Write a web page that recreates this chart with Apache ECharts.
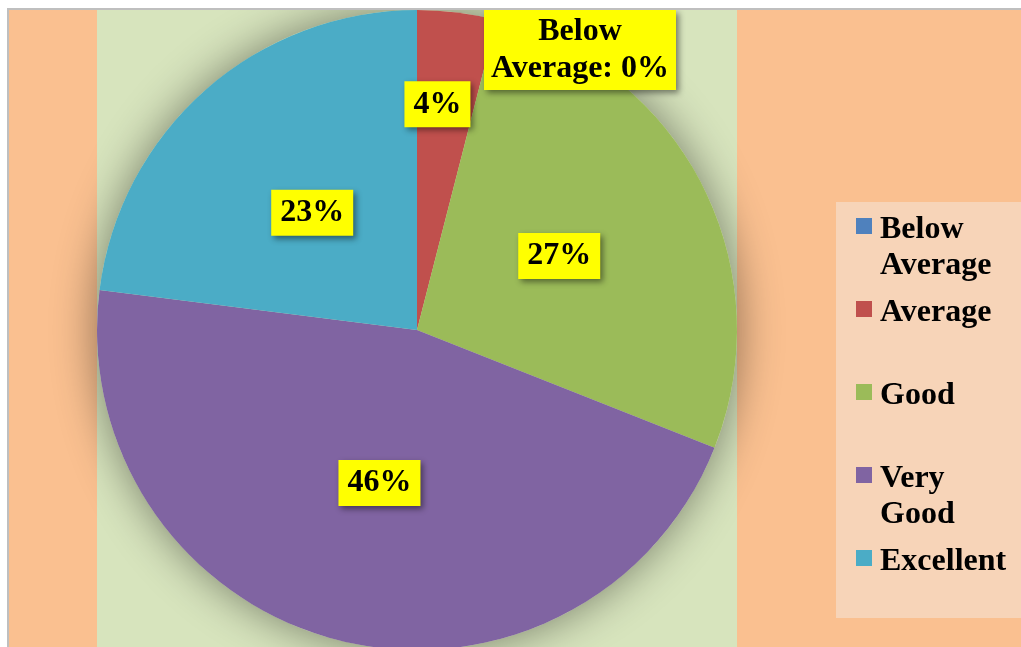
<!DOCTYPE html>
<html>
<head>
<meta charset="utf-8">
<script src="https://cdn.jsdelivr.net/npm/echarts@6/dist/echarts.min.js"></script>
<style>
  html, body { margin: 0; padding: 0; background: #fff; }
  #chart { width: 1021px; height: 647px; }
</style>
</head>
<body>
<div id="chart"></div>
<script>
// rating categories and their share of answers (%)
const categories = ['Below Average', 'Average', 'Good', 'Very Good', 'Excellent'];
const values = [0, 4, 27, 46, 23];
const colors = ['#4F81BD', '#C0504D', '#9BBB59', '#8064A2', '#4BACC6'];

const serif = "'Liberation Serif', 'Times New Roman', serif";

const chart = echarts.init(document.getElementById('chart'));

const pieData = categories.map((name, i) => {
    const item = { name: name, value: values[i], itemStyle: { color: colors[i] } };
    if (i === 0) {
        // zero slice gets an outside label with a leader line
        item.label = { position: 'outside', align: 'center', lineHeight: 37, padding: [3, 7] };
        item.labelLine = { show: true, length: 12, length2: 10, lineStyle: { color: '#8C8C8C', width: 1.5 } };
    }
    return item;
});

// small nudges so the labels sit where the original puts them
const labelShift = [null, { dy: -64 }, { dx: -3 }, { dx: 3, dy: -5 }, { dx: 3, dy: 5 }];

const option = {
    backgroundColor: '#ffffff',
    animation: false,
    graphic: [
        {
            type: 'rect', z: -10, silent: true,
            shape: { x: 8, y: 9, width: 1100, height: 700 },
            style: { fill: '#FAC090' }
        },
        {
            type: 'rect', z: -9, silent: true,
            shape: { x: 97, y: 10, width: 640, height: 700 },
            style: { fill: '#D7E4BD' }
        },
        {
            // white margin + border drawn over the pie shadow
            type: 'rect', z: 50, silent: true,
            shape: { x: 0, y: 0, width: 1021, height: 8 },
            style: { fill: '#ffffff' }
        },
        {
            type: 'polyline', z: 51, silent: true,
            shape: { points: [[8, 647], [8, 9], [1021, 9]] },
            style: { stroke: '#BFBFBF', lineWidth: 2, fill: null }
        }
    ],
    legend: {
        orient: 'vertical',
        left: 836,
        top: 202,
        padding: [10, 40, 2, 20],
        itemGap: 11,
        itemWidth: 16,
        itemHeight: 72,
        backgroundColor: '#F7D4B8',
        icon: 'path://M0,0M0,72M0,6L16,6L16,22L0,22Z',
        data: categories,
        formatter: name => name.indexOf(' ') > 0 ? name.replace(' ', '\n') : name + '\n\u00a0',
        textStyle: {
            fontFamily: serif,
            fontWeight: 'bold',
            fontSize: 32,
            lineHeight: 36,
            color: '#000',
            padding: [0, 0, 0, 3]
        }
    },
    series: [
        {
            // soft shadow behind the whole pie
            type: 'pie',
            silent: true,
            z: 1,
            center: [417, 330],
            radius: 320,
            label: { show: false },
            labelLine: { show: false },
            data: [{ value: 1, name: 'shadow' }],
            itemStyle: { color: '#D7E4BD', shadowBlur: 45, shadowColor: 'rgba(0,0,0,0.45)' }
        },
        {
            type: 'pie',
            z: 2,
            center: [417, 330],
            radius: 320,
            startAngle: 90,
            clockwise: true,
            data: pieData,
            label: {
                show: true,
                position: 'inside',
                fontFamily: serif,
                fontWeight: 'bold',
                fontSize: 32,
                lineHeight: 36,
                color: '#000',
                backgroundColor: '#FFFF00',
                padding: [5, 9],
                shadowColor: 'rgba(0,0,0,0.45)',
                shadowBlur: 6,
                shadowOffsetX: 3,
                shadowOffsetY: 3,
                formatter: p => {
                    const pct = Math.round(p.percent) + '%';
                    return p.dataIndex === 0 ? 'Below\nAverage: ' + pct : pct;
                }
            },
            labelLine: { show: false },
            labelLayout: params => {
                if (params.dataIndex === 0) {
                    return { x: 580, y: 50, align: 'center', verticalAlign: 'middle' };
                }
                return labelShift[params.dataIndex] || {};
            }
        }
    ]
};

chart.setOption(option);
</script>
</body>
</html>
